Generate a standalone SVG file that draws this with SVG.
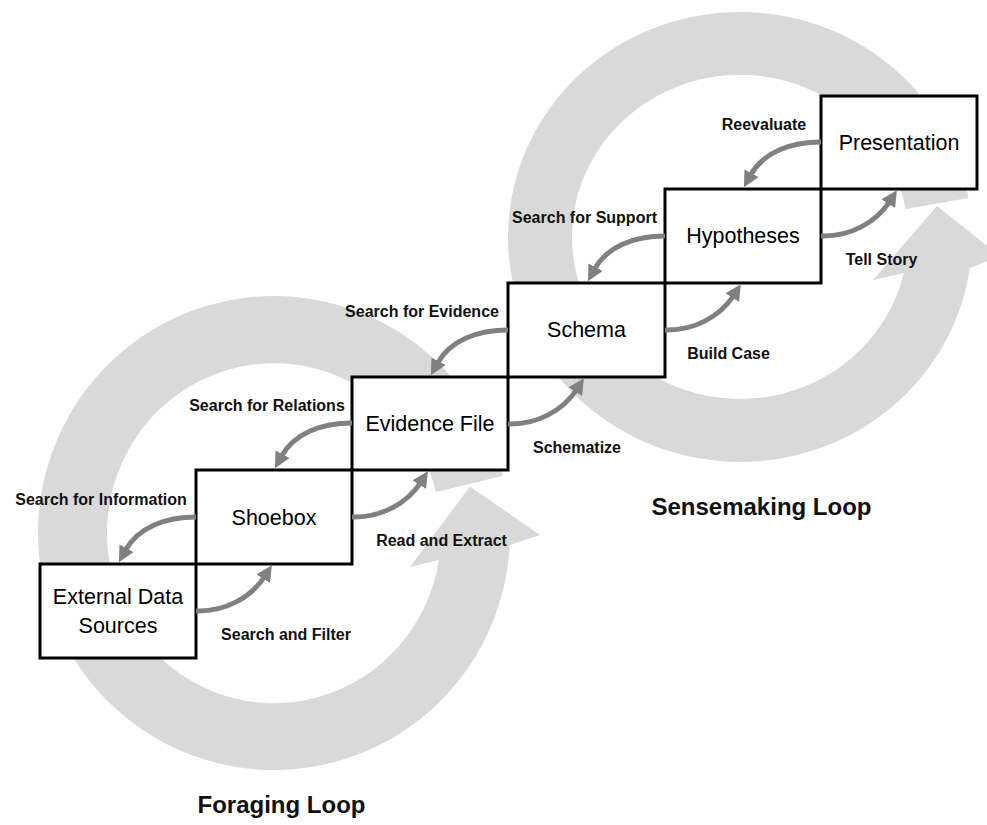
<svg xmlns="http://www.w3.org/2000/svg" width="987" height="825" viewBox="0 0 987 825">
<defs>
<style>
.ring{fill:#d9d9d9}
.box{fill:#ffffff;stroke:#000000;stroke-width:3}
.nt{font-family:"Liberation Sans",Arial,sans-serif;font-size:21.5px;fill:#000;text-anchor:middle}
.lbl{font-family:"Liberation Sans",Arial,sans-serif;font-size:16px;font-weight:bold;fill:#111;text-anchor:middle}
.loop{font-family:"Liberation Sans",Arial,sans-serif;font-size:24px;font-weight:bold;fill:#111;text-anchor:middle}
.arr{fill:none;stroke:#808080;stroke-width:5;marker-end:url(#ah)}
</style>
<marker id="ah" viewBox="0 0 10 10" refX="2" refY="5" markerWidth="3.2" markerHeight="3.2" orient="auto" markerUnits="strokeWidth">
<path d="M0,0 L10,5 L0,10 z" fill="#808080"/>
</marker>
</defs>
<rect width="987" height="825" fill="#ffffff"/>
<g id="loops">
<path class="ring" d="M509.7,545 A236,237 0 1 1 503,475.7 L436,491.9 A167,170 0 1 0 438.9,560 L410,567 L470,486.5 L540,535 Z"/>
<path class="ring" d="M969.8,268 A232,225 0 1 1 968.5,197.9 L905.5,208.9 A168,162 0 1 0 903.8,273 L873,280 L937,206 L1000,256 Z"/>
<text class="loop" x="281.5" y="813">Foraging Loop</text>
<text class="loop" x="761.5" y="515">Sensemaking Loop</text>
</g>
<g id="external-data-sources">
<rect class="box" x="40" y="564" width="156" height="94"/>
<text class="nt" x="118" y="604">External Data</text>
<text class="nt" x="118" y="633">Sources</text>
</g>
<g id="shoebox">
<rect class="box" x="196" y="470" width="156" height="94"/>
<text class="nt" x="274" y="525">Shoebox</text>
</g>
<g id="evidence-file">
<rect class="box" x="352" y="377" width="156" height="93"/>
<text class="nt" x="430" y="431">Evidence File</text>
</g>
<g id="schema">
<rect class="box" x="508" y="283" width="157" height="94"/>
<text class="nt" x="586.5" y="337">Schema</text>
</g>
<g id="hypotheses">
<rect class="box" x="665" y="189" width="156" height="94"/>
<text class="nt" x="743" y="243">Hypotheses</text>
</g>
<g id="presentation">
<rect class="box" x="821" y="96" width="156" height="93"/>
<text class="nt" x="899" y="150">Presentation</text>
</g>
<g id="connectors">
<path class="arr" d="M196,611 c28,1 55,-13 69,-35"/>
<path class="arr" d="M352,517 c28,1 55,-13 69,-35"/>
<path class="arr" d="M508,424 c28,1 55,-13 69,-35"/>
<path class="arr" d="M665,330 c28,1 55,-13 69,-35"/>
<path class="arr" d="M821,236 c28,1 55,-13 69,-35"/>
<path class="arr" d="M196,517 c-30,0 -58,10 -71,34"/>
<path class="arr" d="M352,423 c-30,0 -58,10 -71,34"/>
<path class="arr" d="M508,330 c-30,0 -58,10 -71,34"/>
<path class="arr" d="M665,236 c-30,0 -58,10 -71,34"/>
<path class="arr" d="M821,142 c-30,0 -58,10 -71,34"/>
<text class="lbl" x="286" y="640">Search and Filter</text>
<text class="lbl" x="441.5" y="546">Read and Extract</text>
<text class="lbl" x="577" y="453">Schematize</text>
<text class="lbl" x="728.5" y="359">Build Case</text>
<text class="lbl" x="881.5" y="265">Tell Story</text>
<text class="lbl" x="101" y="505">Search for Information</text>
<text class="lbl" x="267" y="411">Search for Relations</text>
<text class="lbl" x="422" y="317">Search for Evidence</text>
<text class="lbl" x="584.5" y="223">Search for Support</text>
<text class="lbl" x="764" y="130">Reevaluate</text>
</g>
</svg>
